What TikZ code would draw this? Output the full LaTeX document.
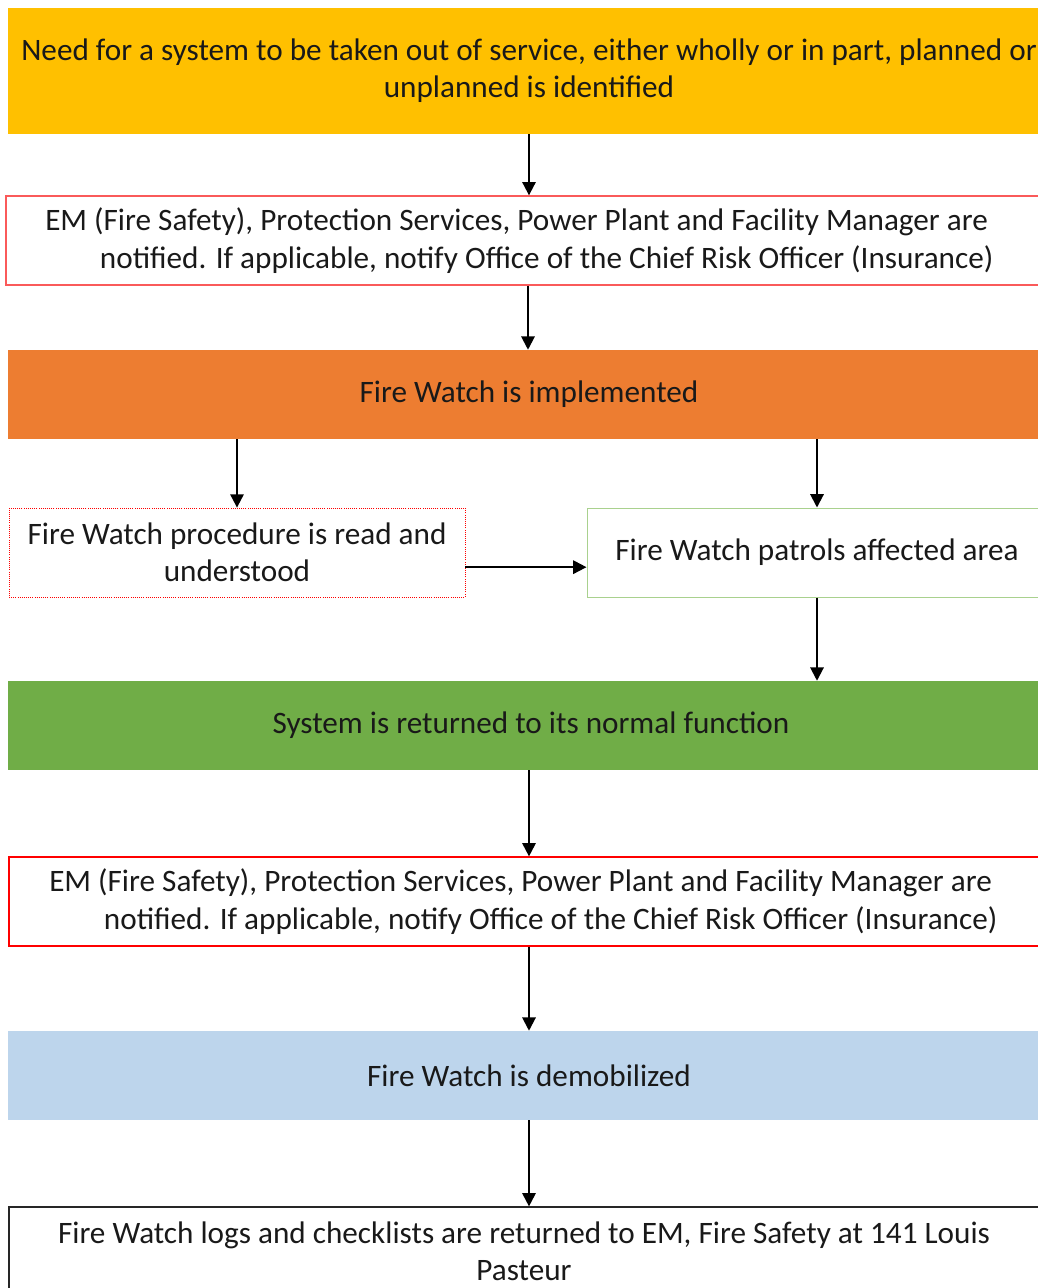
\documentclass[tikz,border=0pt]{standalone}
\usepackage{fontspec}
\setmainfont{Carlito}
\usetikzlibrary{arrows.meta}
\definecolor{cyellow}{RGB}{255,192,0}
\definecolor{corange}{RGB}{237,125,49}
\definecolor{cgreen}{RGB}{112,173,71}
\definecolor{cblue}{RGB}{189,213,236}
\definecolor{cpink}{RGB}{250,90,90}
\definecolor{clgreen}{RGB}{169,209,142}
\begin{document}
\begin{tikzpicture}[x=0.75pt,y=-0.75pt,
  every node/.style={font=\fontsize{23.4}{28}\selectfont, text=black!90},
  box/.style={rectangle, inner sep=0pt, minimum height=66.75pt, align=center},
  arr/.style={line width=1.5pt, -{Triangle[length=10pt,width=10pt]}}]
\useasboundingbox (0,0) rectangle (1038,1288);
\clip (0,0) rectangle (1038,1288);
\node[box, fill=cyellow, minimum width=781.5pt, minimum height=94.5pt] (b1) at (529,71)
  {Need for a system to be taken out of service, either wholly or in part, planned or\\unplanned is identified};
\node[box, draw=cpink, line width=1pt, minimum width=783pt] (b2) at (528,240.5) {};
\node[anchor=west, align=left, inner sep=0pt] (t2) at (45,240.5)
  {EM (Fire Safety), Protection Services, Power Plant and Facility Manager are\\\hspace*{41pt}notified. If applicable, notify Office of the Chief Risk Officer (Insurance)};
\node[box, fill=corange, minimum width=781.5pt] (b3) at (529,394.5) {Fire Watch is implemented};
\node[box, draw=red, densely dotted, line width=0.6pt, minimum width=342pt] (b4) at (237,552.5)
  {Fire Watch procedure is read and\\understood};
\node[box, draw=clgreen, line width=0.75pt, minimum width=345pt] (b5) at (817,552.5)
  {Fire Watch patrols affected area};
\node[box, fill=cgreen, minimum width=784.5pt] (b6) at (531,725.5) {System is returned to its normal function};
\node[box, draw=red, line width=0.9pt, minimum width=780.75pt] (b7) at (529.5,901.5) {};
\node[anchor=west, align=left, inner sep=0pt] (t7) at (49,901.5)
  {EM (Fire Safety), Protection Services, Power Plant and Facility Manager are\\\hspace*{41pt}notified. If applicable, notify Office of the Chief Risk Officer (Insurance)};
\node[box, fill=cblue, minimum width=781.5pt] (b8) at (529,1075.5) {Fire Watch is demobilized};
\node[box, draw=black!85, line width=0.9pt, minimum width=780pt, minimum height=69.75pt] (b9) at (529,1253.5) {};
\node[align=center, inner sep=0pt] (t9) at (524,1251)
  {Fire Watch logs and checklists are returned to EM, Fire Safety at 141 Louis\\Pasteur};
\draw[arr] (b1.south) -- (b1.south |- b2.north);
\draw[arr] (b2.south) -- (b2.south |- b3.north);
\draw[arr] (b4.north |- b3.south) -- (b4.north);
\draw[arr] (b5.north |- b3.south) -- (b5.north);
\draw[arr] ([yshift=-11pt]b4.east) -- ([yshift=-11pt]b5.west);
\draw[arr] (b5.south) -- (b5.south |- b6.north);
\draw[arr] (b8.north |- b6.south) -- (b7.north -| b8.north);
\draw[arr] (b8.north |- b7.south) -- (b8.north);
\draw[arr] (b8.south) -- (b8.south |- b9.north);
\end{tikzpicture}
\end{document}
